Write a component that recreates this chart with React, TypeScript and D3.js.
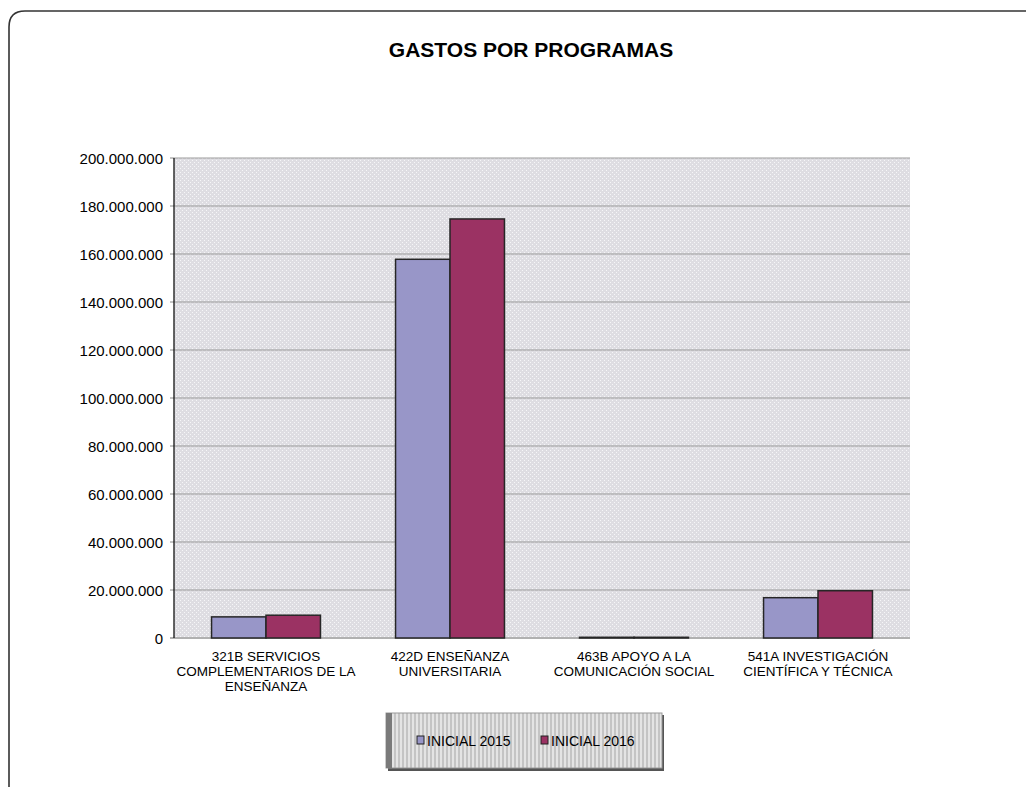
// Gastos por programas - grouped bar chart drawn with D3 scales

import * as d3 from "d3";

const categories = [
  ["321B SERVICIOS", "COMPLEMENTARIOS DE LA", "ENSEÑANZA"],
  ["422D ENSEÑANZA", "UNIVERSITARIA"],
  ["463B APOYO A LA", "COMUNICACIÓN SOCIAL"],
  ["541A INVESTIGACIÓN", "CIENTÍFICA Y TÉCNICA"],
];
const seriesNames = ["INICIAL 2015", "INICIAL 2016"];
const inicial2015 = [8800000, 157800000, 300000, 16800000];
const inicial2016 = [9500000, 174600000, 300000, 19700000];
const yTicks = [0, 20e6, 40e6, 60e6, 80e6, 100e6, 120e6, 140e6, 160e6, 180e6, 200e6];
const colors = ["#9896c8", "#9b3263"];

const W = 1029;
const H = 787;
const plot = { left: 174, right: 910, top: 158, bottom: 638 };
const font = "'Liberation Sans', Arial, sans-serif";

const fmt = (v: number) => d3.format(",")(v).replace(/,/g, ".");

export default function App() {
  const x = d3
    .scaleBand<number>()
    .domain(d3.range(categories.length))
    .range([plot.left, plot.right])
    .paddingInner(0.408)
    .paddingOuter(0.204);
  const xs = d3.scaleBand<number>().domain([0, 1]).range([0, x.bandwidth()]);
  const y = d3.scaleLinear().domain([0, 200e6]).range([plot.bottom, plot.top]);
  const series = [inicial2015, inicial2016];
  const step = (plot.right - plot.left) / categories.length;

  return (
    <svg
      width={W}
      height={H}
      style={{ position: "absolute", left: 0, top: 0, background: "#fff" }}
    >
      <defs>
        <pattern id="dots" width="4" height="4" patternUnits="userSpaceOnUse">
          <rect width="4" height="4" fill="#dedde2" />
          <rect x="0" y="0" width="1" height="1" fill="#f6f6f8" />
          <rect x="2" y="2" width="1" height="1" fill="#f6f6f8" />
        </pattern>
        <pattern id="stripes" width="4" height="4" patternUnits="userSpaceOnUse">
          <rect width="4" height="4" fill="#c4c4c4" />
          <rect x="0" width="2" height="4" fill="#e4e4e4" />
        </pattern>
      </defs>

      {/* outer frame */}
      <path
        d={`M9,${H} L9,27 Q9,11 25,11 L1026,11`}
        fill="none"
        stroke="#333"
        strokeWidth={1.6}
      />

      <text
        x={531}
        y={57}
        textAnchor="middle"
        fontFamily={font}
        fontWeight="bold"
        fontSize={21}
        fill="#000"
      >
        GASTOS POR PROGRAMAS
      </text>

      {/* plot area */}
      <rect
        x={plot.left}
        y={plot.top}
        width={plot.right - plot.left}
        height={plot.bottom - plot.top}
        fill="url(#dots)"
      />
      {yTicks.map((t) => (
        <g key={t}>
          {t > 0 && (
            <line
              x1={plot.left}
              x2={plot.right}
              y1={y(t)}
              y2={y(t)}
              stroke="#9a9a9a"
              strokeWidth={1}
            />
          )}
          <line x1={plot.left - 4} x2={plot.left} y1={y(t)} y2={y(t)} stroke="#888" />
          <text
            x={plot.left - 11}
            y={y(t) + 6}
            textAnchor="end"
            fontFamily={font}
            fontSize={15}
            fill="#000"
          >
            {fmt(t)}
          </text>
        </g>
      ))}

      {/* x axis line (under the bars) */}
      <line
        x1={plot.left - 4}
        x2={plot.right}
        y1={plot.bottom}
        y2={plot.bottom}
        stroke="#b0b0b0"
        strokeWidth={2}
      />

      {/* bars */}
      {series.map((vals, si) =>
        vals.map((v, ci) => (
          <rect
            key={`${si}-${ci}`}
            x={(x(ci) ?? 0) + (xs(si) ?? 0)}
            y={y(v)}
            width={xs.bandwidth()}
            height={Math.max(plot.bottom - y(v), 0.5)}
            fill={colors[si]}
            stroke="#262626"
            strokeWidth={1.5}
          />
        ))
      )}

      <line
        x1={plot.left}
        x2={plot.left}
        y1={plot.top}
        y2={plot.bottom}
        stroke="#111"
        strokeWidth={1.3}
      />

      {/* category labels */}
      {categories.map((lines, ci) => (
        <text key={ci} textAnchor="middle" fontFamily={font} fontSize={13.5} fill="#000">
          {lines.map((l, li) => (
            <tspan key={li} x={plot.left + step * (ci + 0.5)} y={661 + li * 15}>
              {l}
            </tspan>
          ))}
        </text>
      ))}

      {/* legend */}
      <g>
        <rect x={388} y={715} width={276} height={56} fill="#555" />
        <rect x={386} y={713} width={276} height={55} fill="url(#stripes)" stroke="#9a9a9a" />
        <rect x={386} y={713} width={6} height={55} fill="#7a7a7a" />
        {seriesNames.map((name, i) => {
          const lx = 417 + i * 124;
          return (
            <g key={name}>
              <rect x={lx} y={736} width={7} height={8} fill={colors[i]} stroke="#222" strokeWidth={1} />
              <text x={lx + 10} y={746} fontFamily={font} fontSize={14} fill="#000">
                {name}
              </text>
            </g>
          );
        })}
      </g>
    </svg>
  );
}
